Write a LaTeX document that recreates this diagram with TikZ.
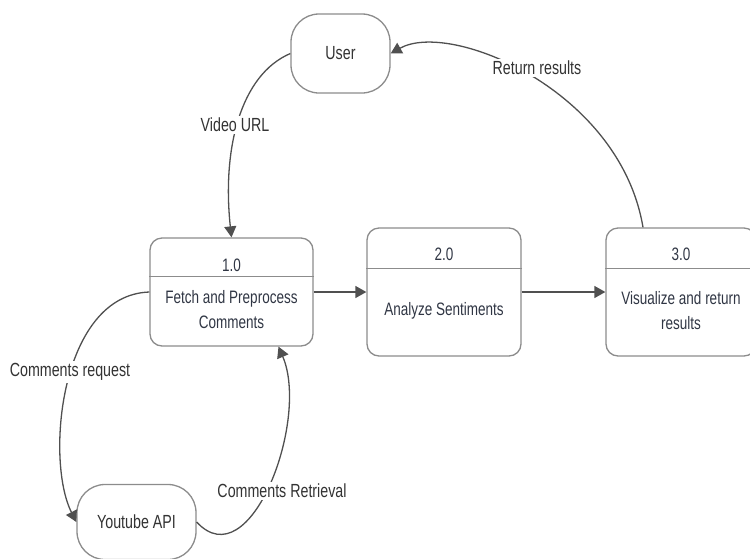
\documentclass[tikz,border=0pt]{standalone}
\usepackage{fontspec}
\setmainfont{Liberation Sans}[FakeStretch=0.75]
\usetikzlibrary{arrows.meta}
\definecolor{boxline}{HTML}{8C8C8C}
\definecolor{flowline}{HTML}{505050}
\definecolor{boxtext}{HTML}{303644}
\definecolor{labeltext}{HTML}{333333}

\begin{document}
\begin{tikzpicture}[
  x=1pt, y=-1pt,
  font=\fontsize{19}{22}\selectfont,
  entity/.style={draw=boxline, line width=1.3pt, fill=white,
                 rounded corners=28pt, text=labeltext},
  process/.style={draw=boxline, line width=1.3pt, fill=white,
                  rounded corners=12pt, minimum height=128pt},
  divider/.style={draw=boxline, line width=1.3pt},
  procnum/.style={text=boxtext, font=\fontsize{18}{20}\selectfont},
  proctext/.style={text=boxtext, align=center,
                   font=\fontsize{18}{25}\selectfont},
  flow/.style={draw=flowline, line width=1.3pt,
               -{Triangle[length=11pt,width=12pt]}},
  flowlabel/.style={fill=white, text=labeltext, inner sep=2pt}
]
\useasboundingbox (0,0) rectangle (750,558);

% external entities
\node[entity, minimum width=99pt, minimum height=79pt] (user) at (340.5,53.5) {User};
\node[entity, minimum width=119pt, minimum height=75pt] (yt) at (136.5,522) {Youtube API};

% process row
\node[process, minimum width=163pt, minimum height=108pt] (fetch) at (231.5,292) {};
\node[process, minimum width=154pt] (analyze) at (444,292) {};
\node[process, minimum width=150pt] (vis) at (681,292) {};

\draw[divider] ([yshift=-39pt]fetch.north west) -- ([yshift=-39pt]fetch.north east);
\draw[divider] ([yshift=-41pt]analyze.north west) -- ([yshift=-41pt]analyze.north east);
\draw[divider] ([yshift=-41pt]vis.north west) -- ([yshift=-41pt]vis.north east);

\node[procnum] (fetchnum) at (231.5,265) {1.0};
\node[procnum] (analyzenum) at (444,254) {2.0};
\node[procnum] (visnum) at (681,254) {3.0};

\node[proctext] (fetchtxt) at (231.5,310) {Fetch and Preprocess\\Comments};
\node[proctext] (analyzetxt) at (444,311) {Analyze Sentiments};
\node[proctext] (vistxt) at (681,310.5) {Visualize and return\\results};

% data flows
\draw[flow] (fetch.east) -- (analyze.west);
\draw[flow] (analyze.east) -- (vis.west);
\draw[flow] (user.west) .. controls (240,75) and (222,150) .. (fetch.north);
\draw[flow] ([xshift=-38pt]vis.north) .. controls (620,90) and (450,20) .. (user.east);
\draw[flow] (fetch.west) .. controls (60,295) and (45,460) .. (yt.west);
\draw[flow] (yt.east) .. controls (250,580) and (310,420) .. ([xshift=47pt]fetch.south);

% flow labels
\node[flowlabel] (urllbl) at (235,125) {Video URL};
\node[flowlabel] (retlbl) at (537,68) {Return results};
\node[flowlabel] (reqlbl) at (70,372) {Comments request};
\node[flowlabel] (getlbl) at (282,491) {Comments Retrieval};
\end{tikzpicture}
\end{document}
